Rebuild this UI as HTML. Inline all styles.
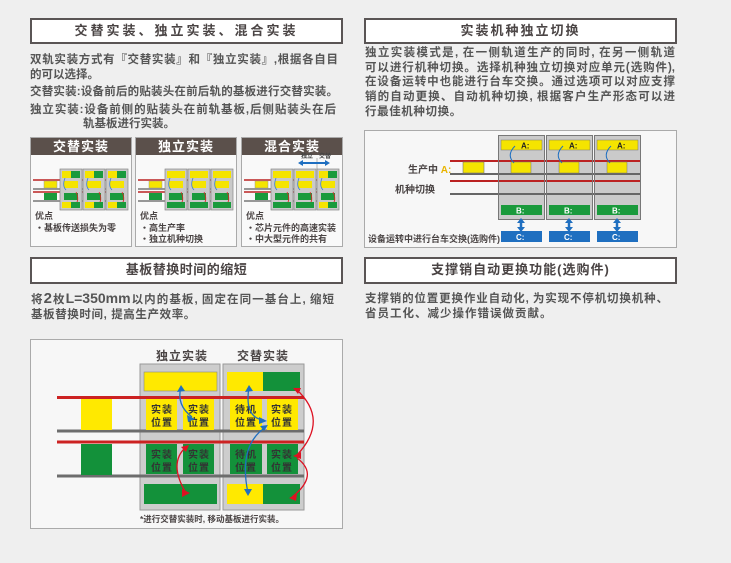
<!DOCTYPE html>
<html><head><meta charset="utf-8">
<style>
*{margin:0;padding:0;box-sizing:border-box}
body{width:731px;height:563px;background:#efefef;position:relative;overflow:hidden;font-family:"Liberation Sans","Noto Sans CJK SC",sans-serif;color:#4a4444;font-weight:bold}
.t{position:absolute;white-space:nowrap}
.title{position:absolute;background:#fff;border:2px solid #5a5555;text-align:center;font-size:13px;color:#4a4444;letter-spacing:2px;line-height:22px}
.p{position:absolute;font-size:11.5px;white-space:nowrap;letter-spacing:0;color:#555}
.j{text-align:justify;text-align-last:justify;white-space:normal;overflow:hidden;height:16px}
.panel{position:absolute;top:137px;width:102px;height:110px;background:#f9f9f9;border:1px solid #aaa}
.panel .h{background:#5b504b;color:#fff;font-size:13px;text-align:center;height:17px;line-height:17px;letter-spacing:1px}
.sm{position:absolute;font-size:9px;line-height:11px;white-space:nowrap}
</style></head><body>

<div class="title" style="left:30px;top:18px;width:313px;height:26px;letter-spacing:3px">交替实装、独立实装、混合实装</div>
<div class="p j" style="left:30px;top:51px;width:308px">双轨实装方式有『交替实装』和『独立实装』,根据各自目</div>
<div class="p" style="left:30px;top:66px">的可以选择。</div>
<div class="p j" style="left:30px;top:83px;width:308px">交替实装:设备前后的贴装头在前后轨的基板进行交替实装。</div>
<div class="p j" style="left:30px;top:101px;width:306px">独立实装:设备前侧的贴装头在前轨基板,后侧贴装头在后</div>
<div class="p" style="left:83px;top:115px">轨基板进行实装。</div>

<div class="panel" style="left:30px"><div class="h">交替实装</div>
<div class="sm" style="left:4px;top:73px">优点</div>
<div class="sm" style="left:4px;top:85px">・基板传送损失为零</div></div>
<div class="panel" style="left:135px"><div class="h">独立实装</div>
<div class="sm" style="left:4px;top:73px">优点</div>
<div class="sm" style="left:4px;top:85px">・高生产率</div>
<div class="sm" style="left:4px;top:96px">・独立机种切换</div></div>
<div class="panel" style="left:241px"><div class="h">混合实装</div>
<div class="sm" style="left:4px;top:73px">优点</div>
<div class="sm" style="left:4px;top:85px">・芯片元件的高速实装</div>
<div class="sm" style="left:4px;top:96px">・中大型元件的共有</div></div>

<svg style="position:absolute;left:0;top:0" width="731" height="563">
<defs>
<g id="rails">
 <line x1="3" y1="180" x2="98" y2="180" stroke="#b22" stroke-width="1.5"/>
 <line x1="3" y1="189" x2="98" y2="189" stroke="#777" stroke-width="1.5"/>
 <line x1="3" y1="192" x2="98" y2="192" stroke="#b22" stroke-width="1.5"/>
 <line x1="3" y1="201" x2="98" y2="201" stroke="#777" stroke-width="1.5"/>
 <rect x="14" y="181" width="13" height="7" fill="#f5e400" stroke="#999" stroke-width=".5"/>
 <rect x="14" y="193" width="13" height="7" fill="#1a9a3c"/>
</g>
<g id="col">
 <rect x="0" y="169" width="22" height="41" fill="#c9c9c9" stroke="#888" stroke-width=".7"/>
 <rect x="4" y="181" width="14" height="7" fill="#f5e400"/>
 <rect x="4" y="193" width="14" height="7" fill="#1a9a3c"/>
 <path d="M5 178 Q2 186 6 190" stroke="#3a7fd0" fill="none" stroke-width=".8"/>
 <path d="M16 192 Q20 200 15 205" stroke="#d22" fill="none" stroke-width=".8"/>
</g>
</defs>
<g transform="translate(30,0)"><use href="#rails"/>
<g transform="translate(30,0)"><use href="#col"/><rect x="2" y="171" width="9" height="7" fill="#f5e400"/><rect x="11" y="171" width="9" height="7" fill="#1a9a3c"/><rect x="2" y="202" width="9" height="6" fill="#f5e400"/><rect x="11" y="202" width="9" height="6" fill="#1a9a3c"/></g>
<g transform="translate(53,0)"><use href="#col"/><rect x="2" y="171" width="9" height="7" fill="#f5e400"/><rect x="11" y="171" width="9" height="7" fill="#1a9a3c"/><rect x="2" y="202" width="9" height="6" fill="#f5e400"/><rect x="11" y="202" width="9" height="6" fill="#1a9a3c"/></g>
<g transform="translate(76,0)"><use href="#col"/><rect x="2" y="171" width="9" height="7" fill="#f5e400"/><rect x="11" y="171" width="9" height="7" fill="#1a9a3c"/><rect x="2" y="202" width="9" height="6" fill="#f5e400"/><rect x="11" y="202" width="9" height="6" fill="#1a9a3c"/></g>
</g>
<g transform="translate(135,0)"><use href="#rails"/>
<g transform="translate(30,0)"><use href="#col"/><rect x="2" y="171" width="18" height="7" fill="#f5e400"/><rect x="2" y="202" width="18" height="6" fill="#1a9a3c"/></g>
<g transform="translate(53,0)"><use href="#col"/><rect x="2" y="171" width="18" height="7" fill="#f5e400"/><rect x="2" y="202" width="18" height="6" fill="#1a9a3c"/></g>
<g transform="translate(76,0)"><use href="#col"/><rect x="2" y="171" width="18" height="7" fill="#f5e400"/><rect x="2" y="202" width="18" height="6" fill="#1a9a3c"/></g>
</g>
<g transform="translate(241,0)"><use href="#rails"/>
<g transform="translate(30,0)"><use href="#col"/><rect x="2" y="171" width="18" height="7" fill="#f5e400"/><rect x="2" y="202" width="18" height="6" fill="#1a9a3c"/></g>
<g transform="translate(53,0)"><use href="#col"/><rect x="2" y="171" width="18" height="7" fill="#f5e400"/><rect x="2" y="202" width="18" height="6" fill="#1a9a3c"/></g>
<g transform="translate(76,0)"><use href="#col"/><rect x="2" y="171" width="9" height="7" fill="#f5e400"/><rect x="11" y="171" width="9" height="7" fill="#1a9a3c"/><rect x="2" y="202" width="9" height="6" fill="#f5e400"/><rect x="11" y="202" width="9" height="6" fill="#1a9a3c"/></g>
<line x1="76" y1="158" x2="76" y2="169" stroke="#888" stroke-width=".6"/>
<line x1="60" y1="163" x2="86" y2="163" stroke="#1f6fc0" stroke-width="2"/>
<path d="M57 163 L62 160 L62 166Z M89 163 L84 160 L84 166Z" fill="#1f6fc0"/>
<text x="60" y="158" font-size="6" fill="#444">独立</text><text x="78" y="158" font-size="6" fill="#444">交替</text>
</g>

<rect x="364.5" y="130.5" width="312" height="117" fill="#f7f7f7" stroke="#aaa"/>
<line x1="450" y1="161" x2="641" y2="161" stroke="#b22" stroke-width="2"/>
<line x1="450" y1="174" x2="641" y2="174" stroke="#666" stroke-width="2"/>
<line x1="450" y1="181" x2="641" y2="181" stroke="#b22" stroke-width="2"/>
<line x1="450" y1="194" x2="641" y2="194" stroke="#666" stroke-width="2"/>
<rect x="463" y="162" width="21" height="11" fill="#f5e400" stroke="#777" stroke-width=".6"/>
<g id="rc">
<rect x="498.5" y="135.5" width="46" height="84" fill="#cacaca" stroke="#777"/>
<line x1="499" y1="161" x2="544" y2="161" stroke="#b22" stroke-width="2"/>
<line x1="499" y1="174" x2="544" y2="174" stroke="#666" stroke-width="2"/>
<line x1="499" y1="181" x2="544" y2="181" stroke="#b22" stroke-width="2"/>
<line x1="499" y1="194" x2="544" y2="194" stroke="#666" stroke-width="2"/>
<rect x="501" y="140" width="41" height="10" fill="#f5e400" stroke="#777" stroke-width=".5"/>
<text x="521" y="148.5" font-size="8" font-weight="bold" fill="#222">A:</text>
<rect x="511" y="162" width="20" height="11" fill="#f5e400" stroke="#777" stroke-width=".5"/>
<path d="M515 146 Q506 155 514 163" stroke="#1f6fc0" fill="none" stroke-width="1"/>
<rect x="501" y="205" width="41" height="10" fill="#1a9a3c"/>
<text x="516" y="213.5" font-size="8" font-weight="bold" fill="#fff">B:</text>
<line x1="521" y1="221" x2="521" y2="229" stroke="#1f6fc0" stroke-width="2.5"/>
<path d="M517 223 L521 218 L525 223Z M517 227 L521 232 L525 227Z" fill="#1f6fc0"/>
<rect x="501" y="231" width="41" height="11" fill="#1f6fc0"/>
<text x="516" y="240" font-size="8" font-weight="bold" fill="#fff">C:</text>
</g>
<use href="#rc" x="48"/><use href="#rc" x="96"/>

<rect x="30.5" y="339.5" width="312" height="189" fill="#f7f7f7" stroke="#aaa"/>
<rect x="140" y="364" width="80" height="146" fill="#cdcdcd" stroke="#999"/>
<rect x="223" y="364" width="81" height="146" fill="#cdcdcd" stroke="#999"/>
<line x1="57" y1="397.5" x2="304" y2="397.5" stroke="#cc2222" stroke-width="3"/>
<line x1="57" y1="431" x2="304" y2="431" stroke="#6d6d6d" stroke-width="3"/>
<line x1="57" y1="442" x2="304" y2="442" stroke="#cc2222" stroke-width="3"/>
<line x1="57" y1="476" x2="304" y2="476" stroke="#6d6d6d" stroke-width="3"/>
<rect x="81" y="399" width="31" height="31" fill="#ffe900"/>
<rect x="81" y="444" width="31" height="31" fill="#13913a"/>
<rect x="144" y="372" width="73" height="19" fill="#ffe900" stroke="#888" stroke-width=".6"/>
<rect x="227" y="372" width="36" height="19" fill="#ffe900"/><rect x="263" y="372" width="37" height="19" fill="#13913a"/>
<rect x="146" y="399" width="31" height="31" fill="#ffe900"/><rect x="183" y="399" width="31" height="31" fill="#ffe900"/>
<rect x="230" y="399" width="32" height="31" fill="#ffe900"/><rect x="267" y="399" width="31" height="31" fill="#ffe900"/>
<rect x="146" y="444" width="31" height="30" fill="#13913a"/><rect x="183" y="444" width="31" height="30" fill="#13913a"/>
<rect x="230" y="444" width="32" height="30" fill="#13913a"/><rect x="267" y="444" width="31" height="30" fill="#13913a"/>
<rect x="144" y="484" width="73" height="20" fill="#13913a"/>
<rect x="227" y="484" width="36" height="20" fill="#ffe900"/><rect x="263" y="484" width="37" height="20" fill="#13913a"/>
<g font-size="10" font-weight="bold" fill="#333" letter-spacing="1">
<text x="151" y="413">实装</text><text x="151" y="426">位置</text>
<text x="188" y="413">实装</text><text x="188" y="426">位置</text>
<text x="235" y="413">待机</text><text x="235" y="426">位置</text>
<text x="271" y="413">实装</text><text x="271" y="426">位置</text>
<text x="151" y="458">实装</text><text x="151" y="471">位置</text>
<text x="188" y="458">实装</text><text x="188" y="471">位置</text>
<text x="235" y="458">待机</text><text x="235" y="471">位置</text>
<text x="271" y="458">实装</text><text x="271" y="471">位置</text>
</g>
<g fill="none" stroke-width="1.3">
<path d="M181 387 Q176 405 192 417" stroke="#1f6fc0"/>
<path d="M249 387 Q244 418 264 420" stroke="#1f6fc0"/>
<path d="M266 427 Q238 445 248 493" stroke="#1f6fc0"/>
<path d="M186 447 Q168 463 186 493" stroke="#dd1122"/>
<path d="M296 389 Q330 420 297 455" stroke="#dd1122"/>
<path d="M297 458 Q320 475 292 497" stroke="#dd1122"/>
</g>
<g fill="#1f6fc0"><path d="M181 385 L177 392 L185 391Z"/><path d="M195 419 L187 415 L188 422Z"/><path d="M249 385 L245 392 L253 391Z"/><path d="M267 421 L259 417 L259 424Z"/><path d="M268 425 L260 426 L264 431Z"/><path d="M248 496 L244 489 L252 489Z"/></g>
<g fill="#dd1122"><path d="M189 445 L181 447 L186 452Z"/><path d="M190 493 L182 489 L182 497Z"/><path d="M293 388 L301 388 L298 394Z"/><path d="M293 456 L301 452 L301 459Z"/><path d="M289 498 L297 494 L296 501Z"/></g>
</svg>

<div class="t" style="left:408px;top:161px;font-size:10px">生产中 <span style="color:#e8b400">A:</span></div>
<div class="t" style="left:395px;top:181px;font-size:10px">机种切换</div>
<div class="t" style="left:368px;top:232px;font-size:9px">设备运转中进行台车交换(选购件)</div>

<div class="t" style="left:156px;top:347px;font-size:12px;letter-spacing:1px">独立实装</div>
<div class="t" style="left:237px;top:347px;font-size:12px;letter-spacing:1px">交替实装</div>
<div class="t" style="left:140px;top:513px;font-size:8.5px">*进行交替实装时, 移动基板进行实装。</div>

<div class="title" style="left:364px;top:18px;width:313px;height:26px">实装机种独立切换</div>
<div class="p j" style="left:365px;top:44px;width:310px">独立实装模式是, 在一侧轨道生产的同时, 在另一侧轨道</div>
<div class="p j" style="left:365px;top:59px;width:310px">可以进行机种切换。选择机种独立切换对应单元(选购件),</div>
<div class="p j" style="left:365px;top:73px;width:310px">在设备运转中也能进行台车交换。通过选项可以对应支撑</div>
<div class="p j" style="left:365px;top:88px;width:310px">销的自动更换、自动机种切换, 根据客户生产形态可以进</div>
<div class="p" style="left:365px;top:103px;letter-spacing:0.6px">行最佳机种切换。</div>

<div class="title" style="left:30px;top:257px;width:313px;height:27px;letter-spacing:0.5px">基板替换时间的缩短</div>
<div class="p j" style="left:31px;top:290px;width:303px;height:18px">将<span style="font-size:15px">2</span>枚<span style="font-size:14px">L=350mm</span>以内的基板, 固定在同一基台上, 缩短</div>
<div class="p" style="left:31px;top:306px;letter-spacing:0.6px">基板替换时间, 提高生产效率。</div>

<div class="title" style="left:364px;top:257px;width:313px;height:27px;letter-spacing:1px">支撑销自动更换功能(选购件)</div>
<div class="p j" style="left:365px;top:290px;width:303px">支撑销的位置更换作业自动化, 为实现不停机切换机种、</div>
<div class="p" style="left:365px;top:305px;letter-spacing:1px">省员工化、减少操作错误做贡献。</div>
</body></html>
